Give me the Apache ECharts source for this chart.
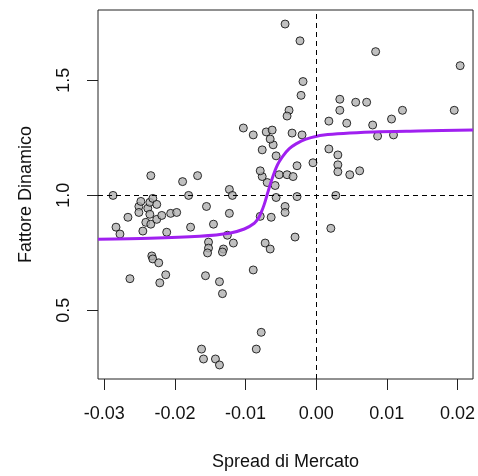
<!DOCTYPE html>
<html>
<head>
<meta charset="utf-8">
<script src="https://cdn.jsdelivr.net/npm/echarts@6/dist/echarts.min.js"></script>
<style>
  html, body { margin: 0; background: #fff; }
  #chart { width: 478px; height: 476px; }
</style>
</head>
<body>
<div id="chart"></div>
<script>
// points
const spreadX = [
  -0.02877, -0.02835, -0.02779, -0.02666, -0.02638, -0.02511, -0.02511, -0.02483, -0.02455, -0.02413,
  -0.02385, -0.02356, -0.02356, -0.02342, -0.02342, -0.02314, -0.02258, -0.02258, -0.02187, -0.02117,
  -0.02061, -0.01976, -0.01892, -0.01807, -0.01779, -0.01680, -0.02328, -0.02314, -0.02230, -0.02131,
  -0.02215, -0.01554, -0.01568, -0.01370, -0.01328, -0.01624, -0.01596, -0.01427, -0.01370, -0.01525,
  -0.01525, -0.01539, -0.01455, -0.01230, -0.01258, -0.01173, -0.01314, -0.01328, -0.01230, -0.01187,
  -0.00892, -0.00779, -0.00849, -0.00723, -0.00652, -0.00793, -0.00638, -0.00441, -0.00441, -0.00300,
  -0.00272, -0.00568, -0.00582, -0.00694, -0.00765, -0.00793, -0.00525, -0.00413, -0.00328, -0.00272,
  -0.00046, -0.00568, -0.00765, -0.00610, -0.00652, -0.01032, -0.00892, -0.00708, -0.00624, -0.00342,
  -0.00201, -0.00385, -0.00413, -0.00187, -0.00215, -0.00441, -0.00230,
  0.00841, 0.02038, 0.00334, 0.00334, 0.00559, 0.00714, 0.01221, 0.01954, 0.00179, 0.00432,
  0.00799, 0.01066, 0.00869, 0.01094, 0.00179, 0.00306, 0.00306, 0.00306, 0.00475, 0.00615,
  0.00277, 0.00207
];
const fattoreY = [
  0.999, 0.861, 0.831, 0.904, 0.637, 0.951, 0.925, 0.973, 0.844, 0.882,
  0.943, 0.969, 0.917, 0.874, 1.085, 0.986, 0.960, 0.895, 0.912, 0.839,
  0.921, 0.925, 1.059, 0.999, 0.861, 1.085, 0.736, 0.723, 0.706, 0.654,
  0.619, 0.951, 0.650, 0.624, 0.572, 0.331, 0.288, 0.288, 0.262, 0.796,
  0.770, 0.749, 0.874, 0.921, 0.826, 0.792, 0.766, 0.753, 1.025, 0.999,
  0.675, 0.404, 0.331, 0.792, 0.766, 0.908, 0.904, 0.951, 0.925, 0.818,
  0.994, 0.990, 1.042, 1.055, 1.081, 1.106, 1.089, 1.089, 1.081, 1.128,
  1.141, 1.171, 1.197, 1.219, 1.244, 1.292, 1.262, 1.275, 1.283, 1.270,
  1.262, 1.369, 1.344, 1.494, 1.434, 1.744, 1.671,
  1.624, 1.563, 1.417, 1.369, 1.404, 1.404, 1.369, 1.369, 1.322, 1.313,
  1.305, 1.331, 1.257, 1.262, 1.201, 1.175, 1.132, 1.102, 1.089, 1.106,
  0.999, 0.856
];
// fitted curve
const curveX = [-0.0309, -0.02356, -0.01652, -0.01230, -0.01018, -0.00877, -0.00821, -0.00779, -0.00736, -0.00694,
  -0.00652, -0.00610, -0.00568, -0.00525, -0.00469, -0.00385, -0.00286, -0.00145, 0.00108, 0.00813,
  0.01446, 0.02221];
const curveY = [0.809, 0.813, 0.822, 0.835, 0.853, 0.878, 0.899, 0.925, 0.960, 1.003,
  1.046, 1.085, 1.119, 1.145, 1.171, 1.201, 1.223, 1.244, 1.262, 1.275,
  1.279, 1.283];

const xTicks = [-0.03, -0.02, -0.01, 0, 0.01, 0.02];
const yTicks = [0.5, 1.0, 1.5];

const font = "'Liberation Sans', Arial, sans-serif";
const chart = echarts.init(document.getElementById('chart'));

chart.setOption({
  animation: false,
  grid: { left: 98, right: 3, top: 10, bottom: 94, show: true, borderColor: '#222', borderWidth: 1 },
  xAxis: {
    type: 'value',
    min: -0.0309,
    max: 0.0222,
    name: 'Spread di Mercato',
    nameLocation: 'middle',
    nameGap: 74,
    nameTextStyle: { color: '#111', fontSize: 18, fontFamily: font },
    axisLine: { show: false, onZero: false },
    splitLine: { show: false },
    axisTick: { show: true, length: 11, customValues: xTicks, lineStyle: { color: '#222' } },
    axisLabel: {
      customValues: xTicks,
      margin: 26,
      color: '#111',
      fontSize: 18,
      fontFamily: font,
      formatter: (v) => v.toFixed(2),
    },
  },
  yAxis: {
    type: 'value',
    min: 0.201,
    max: 1.805,
    name: 'Fattore Dinamico',
    nameLocation: 'middle',
    nameGap: 63,
    nameTextStyle: { color: '#111', fontSize: 18, fontFamily: font },
    axisLine: { show: false, onZero: false },
    splitLine: { show: false },
    axisTick: { show: true, length: 11, customValues: yTicks, lineStyle: { color: '#222' } },
    axisLabel: {
      customValues: yTicks,
      rotate: 90,
      margin: 25,
      color: '#111',
      fontSize: 18,
      fontFamily: font,
      formatter: (v) => v.toFixed(1),
    },
  },
  series: [
    {
      type: 'scatter',
      z: 2,
      symbol: 'circle',
      symbolSize: 8,
      itemStyle: { color: '#b0b0b0', borderColor: '#000', borderWidth: 1 },
      data: spreadX.map((x, i) => [x, fattoreY[i]]),
    },
    {
      type: 'scatter',
      z: 3,
      data: [],
      markLine: {
        silent: true,
        symbol: ['none', 'none'],
        label: { show: false },
        lineStyle: { color: '#000', width: 1, type: [5, 4] },
        data: [{ xAxis: 0 }, { yAxis: 1 }],
      },
    },
    {
      type: 'line',
      z: 4,
      showSymbol: false,
      smooth: 0.3,
      lineStyle: { color: '#a020f0', width: 3 },
      data: curveX.map((x, i) => [x, curveY[i]]),
    },
  ],
});
</script>
</body>
</html>
